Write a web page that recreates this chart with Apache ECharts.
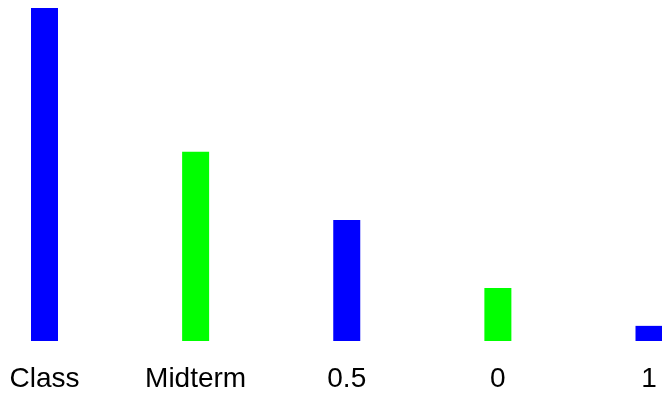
<!DOCTYPE html>
<html>
<head>
<meta charset="utf-8">
<script src="https://cdn.jsdelivr.net/npm/echarts@6/dist/echarts.min.js"></script>
<style>html,body{margin:0;padding:0;background:#fff}#c{width:662px;height:393px}</style>
</head>
<body>
<div id="c"></div>
<script>
var categories = ["Class", "Midterm", "0.5", "0", "1"];
var values = [22, 12.5, 8, 3.5, 1];
var barColors = ["#0000ff", "#00ff00", "#0000ff", "#00ff00", "#0000ff"];

var chart = echarts.init(document.getElementById('c'), null, {renderer: 'canvas'});
chart.setOption({
  animation: false,
  grid: {left: 44.5, right: 13, top: 8, bottom: 52, containLabel: false},
  xAxis: {
    type: 'category',
    data: categories,
    boundaryGap: false,
    axisLine: {show: false},
    axisTick: {show: false},
    axisLabel: {color: '#000', fontFamily: 'Liberation Sans, Arial, sans-serif', fontSize: 28, margin: 24},
    splitLine: {show: false}
  },
  yAxis: {
    type: 'value',
    min: 0,
    max: 22,
    show: false,
    splitLine: {show: false}
  },
  series: [{
    type: 'bar',
    barWidth: 27,
    data: values.map(function (v, i) { return {value: v, itemStyle: {color: barColors[i]}}; })
  }]
});
</script>
</body>
</html>
